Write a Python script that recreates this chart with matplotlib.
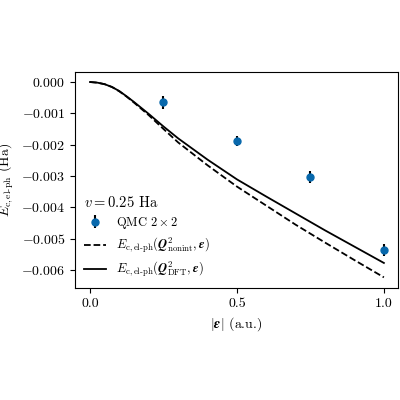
import matplotlib
matplotlib.use("Agg")
import matplotlib.pyplot as plt

plt.rcParams['font.family'] = 'serif'
plt.rcParams['font.serif'] = ['cmr10']
plt.rcParams['mathtext.fontset'] = 'cm'
plt.rcParams['axes.formatter.use_mathtext'] = True
plt.rcParams['font.size'] = 10

# QMC data
qmc_eps = [0.25, 0.5, 0.75, 1.0]
qmc_E = [-0.00065, -0.00188, -0.00304, -0.00537]
qmc_err = [0.0002, 0.00015, 0.0002, 0.0002]

# model curves
eps = [0, 0.025, 0.05, 0.075, 0.1, 0.125, 0.15, 0.2, 0.25, 0.3, 0.4, 0.5, 0.6, 0.7, 0.8, 0.9, 1.0]
E_dft = [0, -0.00002, -0.00007, -0.00016, -0.00029, -0.00046, -0.00064, -0.00102, -0.00142,
         -0.0018, -0.00248, -0.00311, -0.00366, -0.0042, -0.00474, -0.00526, -0.00578]
E_nonint = [0, -0.00002, -0.00007, -0.00016, -0.0003, -0.00047, -0.00066, -0.00106, -0.0015,
            -0.00193, -0.00266, -0.00334, -0.00395, -0.00456, -0.00513, -0.00569, -0.00624]

fig = plt.figure(figsize=(4, 4), dpi=100)
ax = fig.add_axes([75/400, 1-288/400, 323/400, 216/400])

h1 = ax.errorbar(qmc_eps, qmc_E, yerr=qmc_err, fmt='o', color='#0868ac', ecolor='black',
                 ms=5, elinewidth=1.5, label=r'QMC $2\times2$')
h2, = ax.plot(eps, E_nonint, 'k--', lw=1.3,
              label=r'$E_{\rm c,el\text{-}ph}(\boldsymbol{Q}^2_{\rm nonint},\boldsymbol{\epsilon})$')
h3, = ax.plot(eps, E_dft, 'k-', lw=1.3,
              label=r'$E_{\rm c,el\text{-}ph}(\boldsymbol{Q}^2_{\rm DFT},\boldsymbol{\epsilon})$')

ax.set_xlim(-0.051, 1.048)
ax.set_ylim(-0.00658, 0.00032)
ax.set_xticks([0.0, 0.5, 1.0])
ax.set_xticklabels(['0.0', '0.5', '1.0'])
ax.set_yticks([0, -0.001, -0.002, -0.003, -0.004, -0.005, -0.006])
ax.set_yticklabels(['$0.000$', '$-0.001$', '$-0.002$', '$-0.003$', '$-0.004$', '$-0.005$', '$-0.006$'])
ax.set_xlabel(r'$|\boldsymbol{\epsilon}|$ (a.u.)')
ax.set_ylabel(r'$E_{\rm c,el\text{-}ph}$ (Ha)')

leg = ax.legend(handles=[h1, h2, h3], title=r'$v = 0.25$ Ha', loc='lower left', frameon=False,
                fontsize=9, title_fontsize=10.5, handlelength=1.8, borderaxespad=0.3,
                labelspacing=0.4)
leg._legend_box.align = 'left'

fig.savefig('out.png', dpi=100)
